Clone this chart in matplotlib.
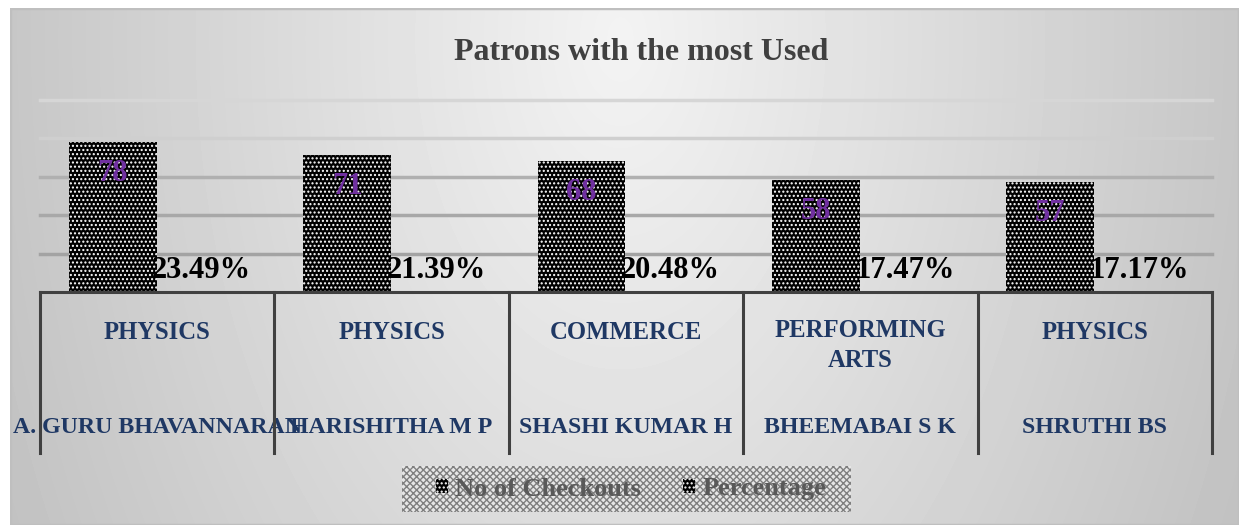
import numpy as np
import matplotlib
matplotlib.use("Agg")
import matplotlib.pyplot as plt
from matplotlib.patches import Patch, Rectangle

# chart data
departments = ["PHYSICS", "PHYSICS", "COMMERCE", "PERFORMING\nARTS", "PHYSICS"]
patrons = ["A. GURU BHAVANNARAN", "HARISHITHA M P", "SHASHI KUMAR H", "BHEEMABAI S K", "SHRUTHI BS"]
checkouts = [78, 71, 68, 58, 57]
percentage = [0.2349, 0.2139, 0.2048, 0.1747, 0.1717]

W, H = 1239, 525
fig = plt.figure(figsize=(W / 100, H / 100), dpi=100)
fig.patch.set_facecolor("white")
plt.rcParams["font.family"] = ["Liberation Serif", "DejaVu Serif"]
plt.rcParams["hatch.linewidth"] = 1.0

# chart area background (grey radial-ish gradient)
bg = fig.add_axes([10 / W, 0, (W - 10) / W, (H - 8) / H])
yy, xx = np.mgrid[0:H - 8, 0:W - 10]
d = np.sqrt(((xx - 610) / 620.0) ** 2 + ((yy - 30) / 1000.0) ** 2)
shade = np.clip(243 - 45 * d, 185, 245) / 255.0
bg.imshow(shade, cmap="gray", vmin=0, vmax=1, aspect="auto", extent=[0, 1, 0, 1], origin="upper")
bg.add_patch(Rectangle((0, 0), 1, 1, transform=bg.transAxes, fill=False, edgecolor="#BFBFBF", lw=2.5))
bg.set_axis_off()

ax = fig.add_axes([40 / W, (H - 292) / H, (1212 - 40) / W, (292 - 99.7) / H])
ax.patch.set_alpha(0)

x = np.arange(len(checkouts))
bw = 0.375
off = 0.19
ax.bar(x - off, checkouts, bw, color="black", edgecolor="white", linewidth=0, hatch="....", zorder=3)
ax.bar(x + off, percentage, bw, color="black", edgecolor="white", linewidth=0, hatch="....", zorder=3)

ax.set_xlim(-0.5, len(checkouts) - 0.5)
ax.set_ylim(0, 100)
ax.tick_params(left=False, bottom=False, labelleft=False, labelbottom=False)
grid_cols = {20: "#A3A3A3", 40: "#A8A8A8", 60: "#B0B0B0", 80: "#CFCFCF", 100: "#D6D6D6"}
for v, c in grid_cols.items():
    ax.axhline(v, color=c, lw=2.5, zorder=1, clip_on=False)
for s in ["left", "right", "top"]:
    ax.spines[s].set_visible(False)
ax.spines["bottom"].set_color("#404040")
ax.spines["bottom"].set_linewidth(2.2)
ax.spines["bottom"].set_zorder(4)

# value labels
for xi, v in zip(x, checkouts):
    ax.annotate(str(v), (xi - off, v), xytext=(0, -31), textcoords="offset pixels",
                ha="center", va="center", fontsize=22, fontweight="bold", color="#7030A0", zorder=5)
for xi, p in zip(x, percentage):
    ax.annotate(f"{p * 100:.2f}%", (xi + off, p), xytext=(0, 21), textcoords="offset pixels",
                ha="center", va="center", fontsize=22, fontweight="bold", color="black", zorder=5)

# multi-level category axis
ph = 292 - 99.7
trans = ax.get_xaxis_transform()
for b in np.arange(-0.5, len(checkouts), 1.0):
    ax.plot([b, b], [0, -(453 - 292) / ph], transform=trans, color="#404040", lw=2.2, clip_on=False, zorder=4)
for xi, dep, name in zip(x, departments, patrons):
    nl = dep.count("\n")
    ax.text(xi, -(339 + 28 * nl - 292) / ph, dep, transform=trans, ha="center", va="baseline",
            fontsize=17.7, fontweight="bold", color="#1F3864", linespacing=1.38)
    ax.text(xi, -(433 - 292) / ph, name, transform=trans, ha="center", va="baseline", fontsize=17.2,
            fontweight="bold", color="#1F3864")

fig.text(641 / W, 1 - 60 / H, "Patrons with the most Used", ha="center", va="baseline",
         fontsize=23, fontweight="bold", color="#404040")

# legend with patterned box
box = Rectangle((402 / W, 1 - 512 / H), (851 - 402) / W, 46 / H, transform=fig.transFigure,
                facecolor="#E6E6E6", edgecolor="#7F7F7F", linewidth=0, hatch="xxxxx", zorder=0)
fig.patches.append(box)
handles = [Patch(facecolor="black", edgecolor="white", linewidth=0, hatch="...."),
           Patch(facecolor="black", edgecolor="white", linewidth=0, hatch="....")]
leg = fig.legend(handles, ["No of Checkouts", "Percentage"], loc="center", ncol=2,
                 bbox_to_anchor=(631 / W, 1 - 489 / H), frameon=False,
                 prop={"size": 19, "weight": "bold"}, handlelength=0.45, handleheight=0.45,
                 handletextpad=0.3, columnspacing=1.57, borderpad=0.3)
for t in leg.get_texts():
    t.set_color("#595959")

fig.savefig("out.png", dpi=100)
